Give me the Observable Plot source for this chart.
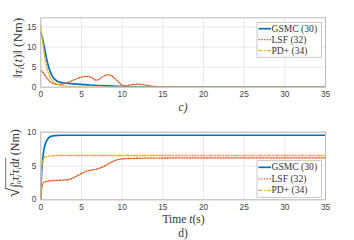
<!DOCTYPE html>
<html><head><meta charset="utf-8">
<script src="https://cdn.jsdelivr.net/npm/d3@7"></script>
<script src="https://cdn.jsdelivr.net/npm/@observablehq/plot@0.6"></script>
<style>
body{margin:0;background:#fff;}
#wrap{position:relative;width:354px;height:240px;overflow:hidden;background:#fff;}
#wrap > svg{position:absolute;left:0;}
</style></head><body>
<div id="wrap"></div>
<script>
const series = ["GSMC (30)", "LSF (32)", "PD+ (34)"];
const colors = ["#0072BD", "#D95319", "#EDB120"];
const xTicks = [0, 5, 10, 15, 20, 25, 30, 35];
const yTicksTop = [0, 5, 10, 15];
const yTicksBot = [0, 5, 10];

// top panel: ||tau_i(t)||
const tGsmcTop = [0,0.2,0.4,0.6,0.8,1.0,1.2,1.4,1.6,1.8,2.0,2.4,2.8,3.2,4,5,6,7,8,10,12,15,20,25,30,35];
const gsmcTop  = [13.5,12.3,10.3,8.2,6.3,4.8,3.7,2.8,2.2,1.8,1.5,1.2,1.05,0.98,0.85,0.72,0.55,0.42,0.32,0.18,0.1,0.05,0.02,0.01,0,0];
const tLsfTop = [0,0.3,0.6,0.9,1.2,1.6,2.0,2.5,3.0,3.5,4.0,4.5,5.0,5.5,6.0,6.4,6.8,7.2,7.6,8.0,8.4,8.8,9.2,9.6,10.0,10.4,10.8,11.4,12.0,12.6,13.2,14,15,17,20,35];
const lsfTop  = [4.2,3.6,2.7,1.9,1.3,0.9,0.7,0.75,0.95,1.3,1.75,2.2,2.5,2.7,2.6,2.2,1.75,2.0,2.6,3.0,3.1,2.7,2.0,1.2,0.5,0.35,0.5,0.7,0.75,0.65,0.4,0.2,0.08,0.03,0,0];
const tPdTop = [0,0.2,0.4,0.6,0.8,1.0,1.2,1.4,1.6,1.8,2.0,2.4,2.8,3.2,4,5,6,8,10,35];
const pdTop  = [15.3,12,8.7,6.2,4.5,3.2,2.3,1.7,1.25,0.95,0.75,0.5,0.35,0.25,0.15,0.08,0.04,0.02,0,0];

// bottom panel: sqrt(int tau^T tau dt)
const tGsmcBot = [0,0.05,0.1,0.2,0.3,0.4,0.6,0.8,1.0,1.3,1.7,2.5,35];
const gsmcBot  = [0,2.5,4.0,5.5,6.7,7.5,8.4,8.9,9.2,9.4,9.5,9.55,9.55];
const tLsfBot = [0,0.05,0.1,0.2,0.4,0.8,1.6,2.4,3.2,3.6,4.0,4.4,4.8,5.2,5.6,6.0,6.5,7.0,7.5,8.0,8.5,9.0,9.5,10.0,11,12,15,20,35];
const lsfBot  = [0,0.9,1.6,2.2,2.6,2.75,2.85,2.9,2.95,3.05,3.25,3.5,3.75,4.0,4.2,4.35,4.45,4.6,4.8,5.1,5.45,5.75,5.95,6.05,6.12,6.15,6.18,6.2,6.2];
const tPdBot = [0,0.05,0.1,0.2,0.3,0.5,0.8,1.2,2,35];
const pdBot  = [0,3.0,4.6,5.6,6.0,6.3,6.45,6.5,6.55,6.55];

const zip = (ts, vs, s) => ts.map((t, i) => ({t, v: vs[i], s}));
const topData = [zip(tGsmcTop, gsmcTop, series[0]), zip(tLsfTop, lsfTop, series[1]), zip(tPdTop, pdTop, series[2])];
const botData = [zip(tGsmcBot, gsmcBot, series[0]), zip(tLsfBot, lsfBot, series[1]), zip(tPdBot, pdBot, series[2])];

const styles = [
  {strokeWidth: 1.7, strokeDasharray: null},
  {strokeWidth: 1.3, strokeDasharray: "1.3,1.5"},
  {strokeWidth: 1.3, strokeDasharray: "4,1.5,1.3,1.5"}
];

function panel(data, yDomain, yTicks, marginTop, marginBottom) {
  const marks = [
    Plot.gridX(xTicks, {stroke: "#e2e2e2", strokeOpacity: 1, strokeWidth: 0.8}),
    Plot.gridY(yTicks, {stroke: "#e2e2e2", strokeOpacity: 1, strokeWidth: 0.8}),
    Plot.axisX({ticks: xTicks, tickSize: 0, tickPadding: 4, label: null, fontSize: 8.3, fill: "#444"}),
    Plot.axisY({ticks: yTicks, tickSize: 0, tickPadding: 4.5, label: null, fontSize: 8.3, fill: "#444"})
  ];
  data.forEach((d, i) => {
    marks.push(Plot.line(d, {x: "t", y: "v", stroke: colors[i], strokeWidth: styles[i].strokeWidth,
      strokeDasharray: styles[i].strokeDasharray, curve: "monotone-x", clip: true}));
  });
  marks.push(Plot.frame({stroke: "#bbbbbb", strokeWidth: 1}));
  return Plot.plot({
    width: 354, height: 120,
    marginLeft: 40.3, marginRight: 29, marginTop, marginBottom,
    style: {fontFamily: "'Liberation Sans', Arial, sans-serif", background: "transparent"},
    x: {domain: [0, 35]},
    y: {domain: yDomain},
    marks
  });
}

const wrap = document.getElementById("wrap");
const p1 = panel(topData, [0, 17.3], yTicksTop, 17.3, 33.3);
p1.style.top = "0px";
wrap.appendChild(p1);
const p2 = panel(botData, [0, 10], yTicksBot, 11.7, 40.7);
p2.style.top = "120px";
wrap.appendChild(p2);

// overlay for labels & legends
const ov = d3.select(wrap).append("svg").attr("width", 354).attr("height", 240)
  .style("position", "absolute").style("top", "0px").style("left", "0px");
const serif2 = "'Liberation Serif', 'DejaVu Serif', serif";

// top y label
const yl1 = ov.append("text").attr("transform", "translate(21.5,48) rotate(-90)")
  .attr("text-anchor", "middle").attr("font-family", serif2).attr("font-size", 13.5).attr("fill", "#333");
yl1.append("tspan").text("‖");
yl1.append("tspan").attr("font-style", "italic").text("τ");
yl1.append("tspan").attr("font-style", "italic").attr("font-size", 9).attr("dy", 2.5).text("i");
yl1.append("tspan").attr("dy", -2.5).text("(");
yl1.append("tspan").attr("font-style", "italic").text("t");
yl1.append("tspan").text(")‖ (Nm)");

// bottom y label: sqrt(int_0^t tau_i^T tau_i dt) (Nm)
const g2 = ov.append("g").attr("transform", "translate(18.5,161) rotate(-90)");
const parts = g2.append("text").attr("font-family", serif2).attr("font-size", 12).attr("fill", "#333").attr("x", 0).attr("y", 0);
parts.append("tspan").attr("font-size", 18).text("√");
parts.append("tspan").attr("font-size", 12.5).attr("dy", 0).text("∫");
parts.append("tspan").attr("font-size", 6.8).attr("dy", 2.5).text("0");
parts.append("tspan").attr("font-size", 6.8).attr("font-style", "italic").attr("dy", -7.5).attr("dx", -3.5).text("t");
parts.append("tspan").attr("font-style", "italic").attr("dy", 5).attr("dx", 1.5).text("τ");
parts.append("tspan").attr("font-size", 6.8).attr("font-style", "italic").attr("dy", -4.5).text("T");
parts.append("tspan").attr("font-size", 6.8).attr("font-style", "italic").attr("dy", 7).attr("dx", -4).text("i");
parts.append("tspan").attr("font-style", "italic").attr("dy", -2.5).attr("dx", 1.5).text("τ");
parts.append("tspan").attr("font-size", 6.8).attr("font-style", "italic").attr("dy", 2.5).text("i");
parts.append("tspan").attr("dy", -2.5).text("d");
parts.append("tspan").attr("font-style", "italic").text("t");
parts.append("tspan").text(" (Nm)");
const tl = parts.node().getComputedTextLength();
parts.attr("x", -tl / 2);
const n = parts.node();
let x1 = 0, x2 = 0;
try {
  const e0 = n.getExtentOfChar(0);
  x1 = e0.x + e0.width - 0.8;
  const e1 = n.getExtentOfChar("√∫0tτTiτid".length);
  x2 = e1.x + e1.width + 0.5;
} catch (e) { x1 = -tl / 2 + 9; x2 = tl / 2 - 25; }
g2.append("line").attr("x1", x1).attr("x2", x2)
  .attr("y1", -12.8).attr("y2", -12.8).attr("stroke", "#333").attr("stroke-width", 0.7);

// panel captions
ov.append("text").attr("x", 183).attr("y", 111).attr("text-anchor", "middle")
  .attr("font-family", serif2).attr("font-size", 11.5).attr("font-style", "italic").attr("fill", "#333").text("c)");
const xl = ov.append("text").attr("x", 183.5).attr("y", 222.5).attr("text-anchor", "middle")
  .attr("font-family", serif2).attr("font-size", 11.5).attr("fill", "#333");
xl.append("tspan").text("Time ");
xl.append("tspan").attr("font-style", "italic").text("t");
xl.append("tspan").text("(s)");
ov.append("text").attr("x", 183).attr("y", 236.5).attr("text-anchor", "middle")
  .attr("font-family", serif2).attr("font-size", 11.5).attr("fill", "#333").text("d)");

// legends
function legend(x0, y0, w, h, rows) {
  const g = ov.append("g");
  g.append("rect").attr("x", x0).attr("y", y0).attr("width", w).attr("height", h)
    .attr("fill", "#fff").attr("stroke", "#bbbbbb").attr("stroke-width", 0.8);
  series.forEach((s, i) => {
    const y = rows[i];
    g.append("line").attr("x1", x0 + 1.5).attr("x2", x0 + 14).attr("y1", y).attr("y2", y)
      .attr("stroke", colors[i]).attr("stroke-width", styles[i].strokeWidth)
      .attr("stroke-dasharray", styles[i].strokeDasharray);
    g.append("text").attr("x", x0 + 14.5).attr("y", y).attr("dy", "0.33em")
      .attr("font-family", serif2).attr("font-size", 9.6).attr("fill", "#333").text(s);
  });
}
legend(257, 22.3, 64.5, 35, [28.7, 39.7, 50.7]);
legend(257, 160.7, 64.5, 36.6, [167.3, 178.8, 190.3]);
</script>
</body></html>
